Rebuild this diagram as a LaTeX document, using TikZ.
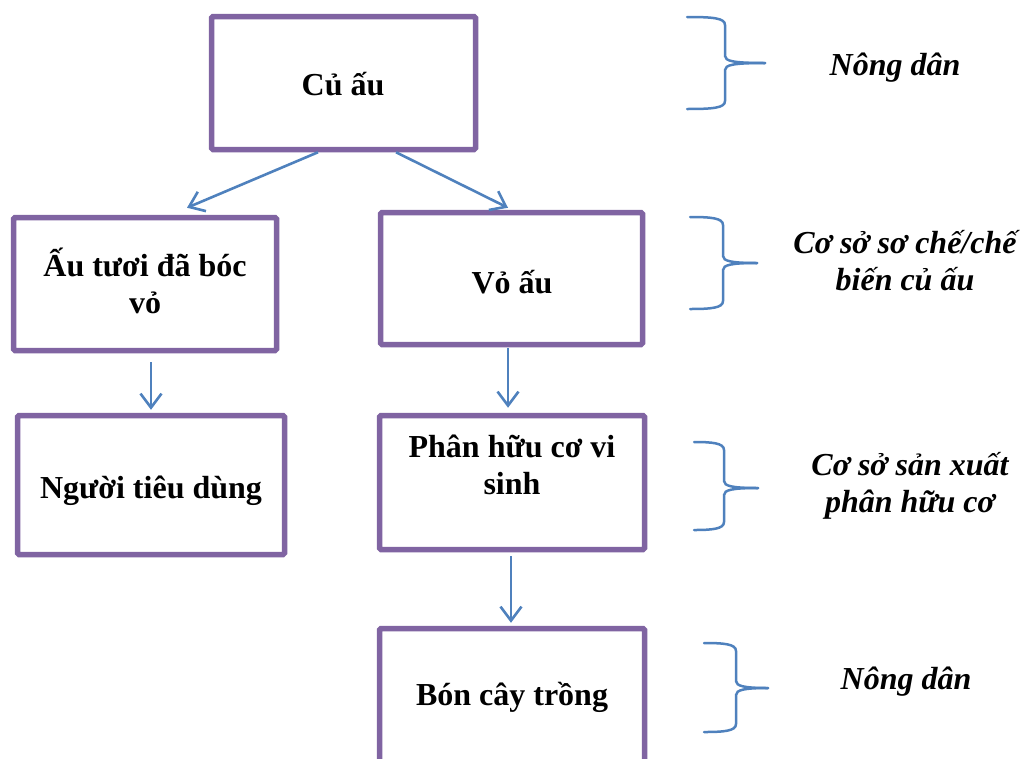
\documentclass[tikz,border=0pt]{standalone}
\usepackage{fontspec}
\setmainfont{Liberation Serif}
\usetikzlibrary{arrows.meta}
\definecolor{boxpurple}{HTML}{8064A2}
\definecolor{linkblue}{HTML}{4F81BD}
\newcommand\curlybrace[6]{%
  % #1 x of free ends, #2 y top, #3 x of vertical, #4 y middle, #5 x of point, #6 y bottom
  \draw[bracestyle] (#1,#2) .. controls (#3-12,#2) and (#3,#2+1) .. (#3,#2+8)
     -- (#3,#4-7) .. controls (#3,#4-2) and (#3+8,#4) .. (#5,#4);
  \draw[bracestyle] (#5,#4) .. controls (#3+8,#4) and (#3,#4+2) .. (#3,#4+7)
     -- (#3,#6-8) .. controls (#3,#6-1) and (#3-12,#6) .. (#1,#6);
}
\begin{document}
\begin{tikzpicture}[x=1pt,y=-1pt,
  stepbox/.style={draw=boxpurple, line width=5.5pt, rounded corners=1.5pt, inner sep=0pt, fill=white},
  boxtext/.style={font=\fontsize{32}{37}\selectfont\bfseries, align=center, anchor=base, inner sep=0pt},
  sidetext/.style={font=\fontsize{32}{37}\selectfont\bfseries\itshape, align=center, anchor=base, inner sep=0pt},
  link/.style={draw=linkblue, line width=2.6pt, -{Straight Barb[length=14pt,width=21pt,line width=2.6pt]}},
  bracestyle/.style={draw=linkblue, line width=2.5pt, line cap=round}]
\useasboundingbox (0,0) rectangle (1024,758);
\clip (0,0) rectangle (1024,758);

% boxes
\node[stepbox, minimum width=264pt, minimum height=133pt] (b1) at (343.5,83) {};
\node[stepbox, minimum width=263pt, minimum height=133pt] (b2) at (145,284) {};
\node[stepbox, minimum width=262pt, minimum height=132pt] (b3) at (511.5,278.5) {};
\node[stepbox, minimum width=267pt, minimum height=139pt] (b4) at (151,485) {};
\node[stepbox, minimum width=265pt, minimum height=134pt] (b5) at (512,482.5) {};
\node[stepbox, minimum width=265pt, minimum height=135pt] (b6) at (512,696) {};

% box texts (base anchor = baseline of the last line)
\node[boxtext] (t1) at (343,95) {Củ ấu};
\node[boxtext] (t2) at (145,313) {Ấu tươi đã bóc\\vỏ};
\node[boxtext] (t3) at (512,293) {Vỏ ấu};
\node[boxtext] (t4) at (151,498) {Người tiêu dùng};
\node[boxtext] (t5) at (512,494) {Phân hữu cơ vi\\sinh};
\node[boxtext] (t6) at (512,705) {Bón cây trồng};

% connectors
\draw[link] ([xshift=-25.5pt]b1.south) -- ([xshift=42pt,yshift=7pt]b2.north);
\draw[link] ([xshift=52.5pt]b1.south) -- ([xshift=-3.5pt,yshift=2pt]b3.north);
\draw[link] ([xshift=6pt,yshift=-9pt]b2.south) -- ([yshift=3pt]b4.north);
\draw[link] ([xshift=-3.5pt,yshift=-1pt]b3.south) -- ([xshift=-4pt,yshift=5pt]b5.north);
\draw[link] ([xshift=-1pt,yshift=-4pt]b5.south) -- ([xshift=-1pt,yshift=3pt]b6.north);

% braces
\curlybrace{687}{17}{725}{63}{765}{109}
\curlybrace{690}{217}{723}{263}{757}{309}
\curlybrace{694}{442}{724}{488}{758}{530}
\curlybrace{704}{643}{736}{688}{768}{732}

% side labels
\node[sidetext] (s1) at (895,75) {Nông dân};
\node[sidetext] (s2) at (905,290) {Cơ sở sơ chế/chế\\biến củ ấu};
\node[sidetext] (s3) at (910,512) {Cơ sở sản xuất\\phân hữu cơ};
\node[sidetext] (s4) at (906,689) {Nông dân};
\end{tikzpicture}
\end{document}
